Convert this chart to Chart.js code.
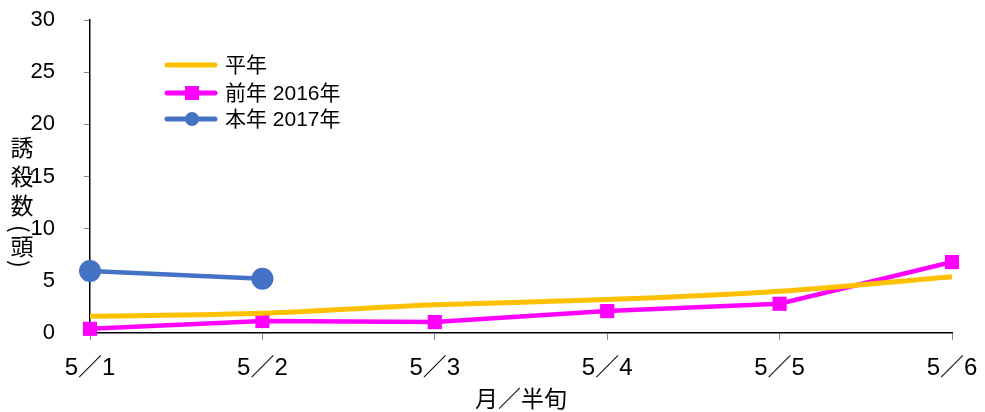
<!DOCTYPE html>
<html>
<head>
<meta charset="utf-8">
<script src="https://cdn.jsdelivr.net/npm/chart.js@4"></script>
<style>
  html, body { margin: 0; padding: 0; background: #fff; }
  #wrap { width: 985px; height: 412px; }
</style>
</head>
<body>
<div id="wrap"><canvas id="myChart" width="985" height="412"></canvas></div>
<script>
// categories (month / half-decade)
const labels = ["5／1", "5／2", "5／3", "5／4", "5／5", "5／6"];
// series values
const heinen = [1.6, 1.9, 2.7, 3.2, 4.0, 5.4];      // 平年
const zennen = [0.4, 1.15, 1.05, 2.1, 2.8, 6.8];    // 前年 2016年
const honnen = [5.95, 5.2, null, null, null, null]; // 本年 2017年
// y tick values
const yTicks = [0, 5, 10, 15, 20, 25, 30];

const FONT = "'Liberation Sans', 'Noto Sans CJK JP', sans-serif";
const CJK = "'Noto Sans CJK JP', sans-serif";

//legend drawn inside the plot area
const legendPlugin = {
  id: "innerLegend",
  afterDraw(chart) {
    const ctx = chart.ctx;
    const items = chart.data.datasets;
    const x0 = 167, x1 = 215;
    const rows = [65, 93, 119];
    ctx.save();
    items.forEach((ds, i) => {
      const y = rows[i];
      ctx.strokeStyle = ds.borderColor;
      ctx.lineWidth = 5;
      ctx.lineCap = "round";
      ctx.beginPath();
      ctx.moveTo(x0, y);
      ctx.lineTo(x1, y);
      ctx.stroke();
      ctx.fillStyle = ds.borderColor;
      if (ds.pointStyle === "rect") {
        ctx.fillRect(185, y - 7, 14, 14);
      } else if (ds.pointStyle === "circle") {
        ctx.beginPath();
        ctx.arc(192, y, 7, 0, Math.PI * 2);
        ctx.fill();
      }
      ctx.fillStyle = "#000";
      ctx.font = "21px " + FONT;
      ctx.textBaseline = "middle";
      ctx.textAlign = "left";
      ctx.fillText(ds.label, 225, y + 1);
    });
    ctx.restore();
  },
};

//vertical y axis title
const yTitlePlugin = {
  id: "yTitle",
  afterDraw(chart) {
    const ctx = chart.ctx;
    const chars = [
      ["誘", 147],
      ["殺", 176],
      ["数", 205],
      ["(", 229],
      ["頭", 246],
      [")", 264],
    ];
    ctx.save();
    ctx.fillStyle = "#000";
    ctx.font = "23px " + CJK;
    ctx.textAlign = "center";
    ctx.textBaseline = "middle";
    chars.forEach(([c, y]) => {
      if (c === "(" || c === ")") {
        ctx.save();
        ctx.translate(20, y);
        ctx.rotate(Math.PI / 2);
        ctx.fillText(c, 0, 0);
        ctx.restore();
      } else {
        ctx.fillText(c, 22, y);
      }
    });
    ctx.restore();
  },
};

const ctx = document.getElementById("myChart");
const myChart = new Chart(ctx, {
  type: "line",
  data: {
    labels,
    datasets: [
      {
        label: "平年",
        data: heinen,
        borderColor: "#FFC000",
        backgroundColor: "#FFC000",
        borderWidth: 5,
        pointRadius: 0,
        pointStyle: false,
        tension: 0.3,
        clip: false,
      },
      {
        label: "前年 2016年",
        data: zennen,
        borderColor: "#FF00FF",
        backgroundColor: "#FF00FF",
        borderWidth: 4.5,
        pointStyle: "rect",
        pointRadius: 10,
        pointBorderWidth: 0,
        clip: false,
      },
      {
        label: "本年 2017年",
        data: honnen,
        borderColor: "#4472C4",
        backgroundColor: "#4472C4",
        borderWidth: 4.5,
        pointStyle: "circle",
        pointRadius: 11,
        pointBorderWidth: 0,
        clip: false,
      },
    ],
  },
  options: {
    responsive: false,
    animation: false,
    layout: { padding: { top: 20, right: 33, left: 0, bottom: 0 } },
    plugins: {
      legend: { display: false },
      tooltip: { enabled: false },
    },
    scales: {
      x: {
        grid: { drawOnChartArea: false, tickLength: 7, color: "#888" },
        border: { color: "#000", width: 1.5 },
        ticks: {
          color: "#000",
          padding: 14,
          font: { family: FONT, size: 24 },
          maxRotation: 0,
        },
        title: {
          display: true,
          text: "月／半旬",
          color: "#000",
          font: { family: CJK, size: 23 },
          padding: { top: 0, bottom: 0 },
        },
        afterFit(scale) {
          scale.height = 79;
          scale.paddingLeft = 0;
          scale.paddingRight = 0;
        },
      },
      y: {
        min: 0,
        max: 30,
        afterBuildTicks(scale) {
          scale.ticks = yTicks.map((v) => ({ value: v }));
        },
        grid: { drawOnChartArea: false, tickLength: 6, color: "#888" },
        border: { color: "#000", width: 1.5 },
        ticks: {
          color: "#000",
          padding: 29,
          font: { family: FONT, size: 22 },
        },
        afterFit(scale) {
          scale.width = 90;
          scale.paddingTop = 0;
          scale.paddingBottom = 0;
        },
      },
    },
  },
  plugins: [legendPlugin, yTitlePlugin],
});
</script>
</body>
</html>
